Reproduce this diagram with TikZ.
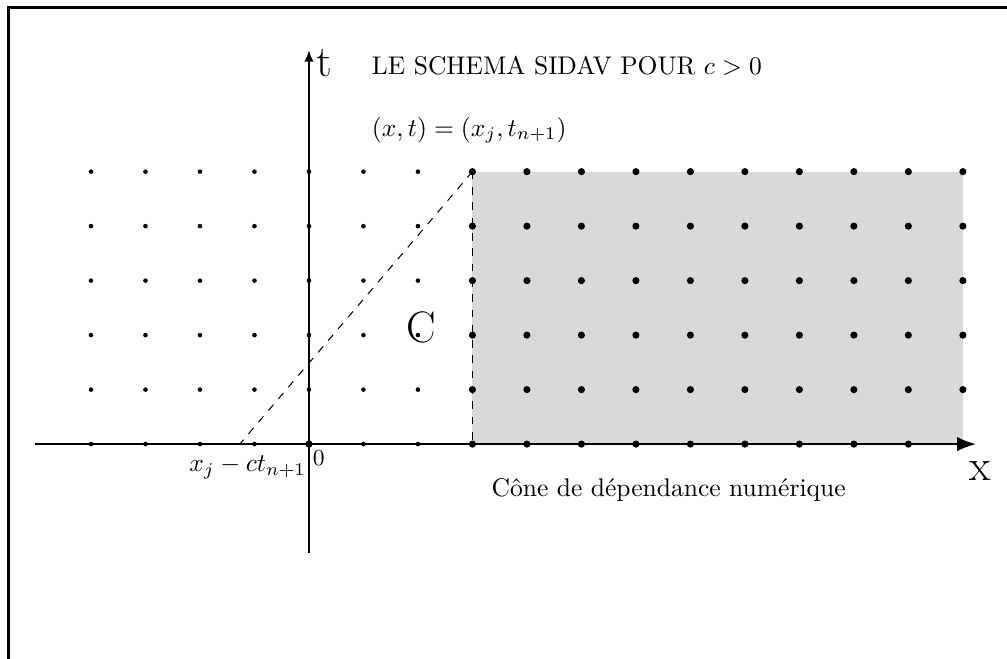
\documentclass[tikz,border=0pt]{standalone}
\usepackage{amsmath}
\usetikzlibrary{arrows.meta}

\begin{document}
\begin{tikzpicture}[
    x=0.75cm, y=0.75cm,
    axis/.style={line width=0.8pt},
    smalldot/.style={fill=black},
    bigdot/.style={fill=black},
    cone/.style={dashed, thin},
    axislabel/.style={font=\LARGE, inner sep=0pt},
    every node/.style={inner sep=1pt}
]
\useasboundingbox (-5.67,-3.94) rectangle (12.81,8.15);

% Frame
\draw[line width=1.2pt] (-5.52,-6) rectangle (14,8.02);

% Shaded region (numerical dependence cone)
\fill[black!15] (3,0) rectangle (12,5);

% Axes
\draw[axis, -{Latex[length=2.6mm, width=2mm]}] (-5.03,0) -- (12.24,0);
\draw[axis, -{Latex[length=1.6mm, width=1.3mm]}] (0,-2) -- (0,7.23);

% Grid points
\foreach \i in {-4,...,2}
  \foreach \j in {0,...,5}
    \fill[smalldot] (\i,\j) circle (0.9pt);
\foreach \i in {3,...,12}
  \foreach \j in {0,...,5}
    \fill[bigdot] (\i,\j) circle (1.4pt);
\fill[bigdot] (0,0) circle (1.4pt);

% Cone edges
\coordinate (apex) at (3,5);
\coordinate (foot) at (-1.27,0);
\coordinate (base) at (3,0);
\draw[cone] (apex) -- (foot);
\draw[cone] (apex) -- (base);

% Labels
\node[axislabel] (tlab) at (0.28,7.0) {t};
\node[axislabel] (xlab) at (12.31,-0.5) {x};
\node[axislabel] (clab) at (2.06,2.15) {C};
\node[font=\small] (zero) at (0.18,-0.26) {0};
\node[anchor=east] (footlab) at (0.0,-0.42) {$x_j-ct_{n+1}$};
\node (conelab) at (6.6,-0.84) {C\^one de d\'ependance num\'erique};
\node[anchor=west] (title) at (1.1,6.95) {LE SCHEMA SIDAV POUR $c>0$};
\node[anchor=west] (apexlab) at (1.1,5.76) {$(x,t)=(x_j,t_{n+1})$};

\end{tikzpicture}
\end{document}
